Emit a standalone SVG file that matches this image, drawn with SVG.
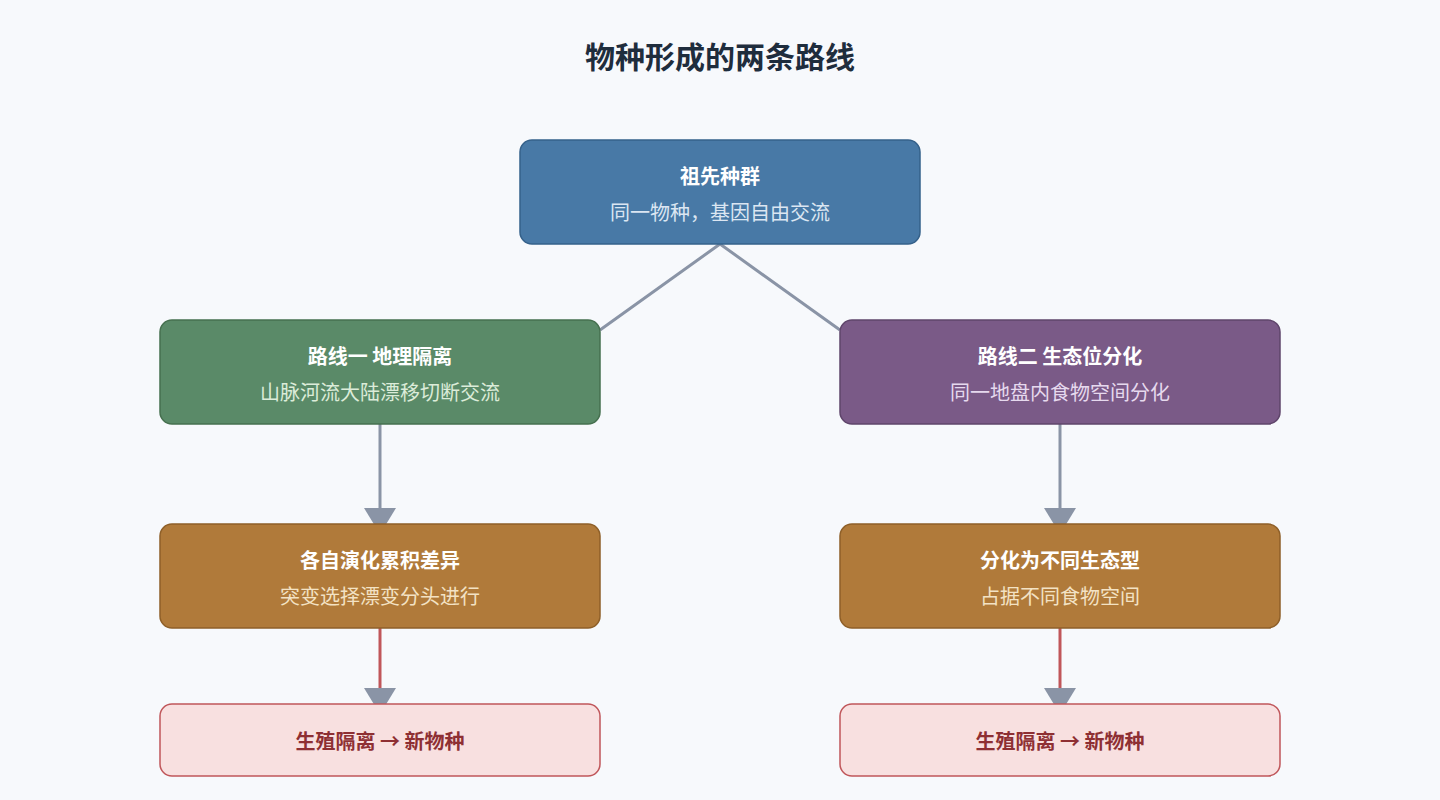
<svg xmlns="http://www.w3.org/2000/svg" width="1440" height="800" viewBox="0 0 1440 800">
<style>
text{font-family:"Noto Sans CJK SC","Noto Sans",sans-serif;text-anchor:middle}
.t{font-size:20px;font-weight:bold;fill:#fff}
.s{font-size:20px}
.g{stroke:#8a94a6;stroke-width:3;fill:none}
.r{stroke:#c0565a;stroke-width:3;fill:none}
.ah{fill:#8a94a6}
</style>
<rect width="1440" height="800" fill="#f7f9fc"/>
<text x="720" y="68" style="font-size:30px;font-weight:bold;fill:#1f2d3d">物种形成的两条路线</text>
<g id="connectors">
<path class="g" d="M720 244L600 330M720 244L840 330"/>
<path class="g" d="M380 424V512"/>
<polygon class="ah" points="364,508 396,508 385,526 375,526"/>
<path class="g" d="M1060 424V512"/>
<polygon class="ah" points="1044,508 1076,508 1065,526 1055,526"/>
<path class="r" d="M380 628V692"/>
<polygon class="ah" points="364,688 396,688 385,706 375,706"/>
<path class="r" d="M1060 628V692"/>
<polygon class="ah" points="1044,688 1076,688 1065,706 1055,706"/>
</g>
<g id="root"><rect x="520" y="140" width="400" height="104" rx="12" fill="#4879a6" stroke="#35618a" stroke-width="1.5"/>
<text class="t" x="720" y="184">祖先种群</text><text class="s" x="720" y="220" fill="#dbe6f2">同一物种，基因自由交流</text></g>
<g id="geo"><rect x="160" y="320" width="440" height="104" rx="12" fill="#5a8a68" stroke="#46704f" stroke-width="1.5"/>
<text class="t" x="380" y="364">路线一 地理隔离</text><text class="s" x="380" y="400" fill="#dcecd9">山脉河流大陆漂移切断交流</text></g>
<g id="eco"><rect x="840" y="320" width="440" height="104" rx="12" fill="#7a5a87" stroke="#5f456b" stroke-width="1.5"/>
<text class="t" x="1060" y="364">路线二 生态位分化</text><text class="s" x="1060" y="400" fill="#e6d9ee">同一地盘内食物空间分化</text></g>
<g id="evo1"><rect x="160" y="524" width="440" height="104" rx="12" fill="#b07a3a" stroke="#8e5f28" stroke-width="1.5"/>
<text class="t" x="380" y="568">各自演化累积差异</text><text class="s" x="380" y="604" fill="#f3e2c4">突变选择漂变分头进行</text></g>
<g id="evo2"><rect x="840" y="524" width="440" height="104" rx="12" fill="#b07a3a" stroke="#8e5f28" stroke-width="1.5"/>
<text class="t" x="1060" y="568">分化为不同生态型</text><text class="s" x="1060" y="604" fill="#f3e2c4">占据不同食物空间</text></g>
<g id="end1"><rect x="160" y="704" width="440" height="72" rx="12" fill="#f8e0e0" stroke="#c0565a" stroke-width="1.5"/>
<text class="t" x="380" y="749" fill="#8e2f33" style="fill:#8e2f33">生殖隔离 → 新物种</text></g>
<g id="end2"><rect x="840" y="704" width="440" height="72" rx="12" fill="#f8e0e0" stroke="#c0565a" stroke-width="1.5"/>
<text class="t" x="1060" y="749" style="fill:#8e2f33">生殖隔离 → 新物种</text></g>
</svg>
